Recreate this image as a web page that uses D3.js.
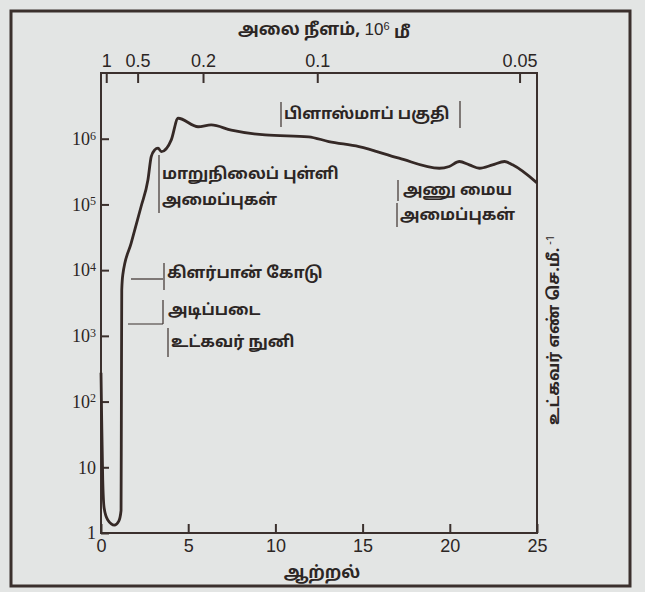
<!DOCTYPE html>
<html>
<head>
<meta charset="utf-8">
<script src="https://cdnjs.cloudflare.com/ajax/libs/d3/7.8.5/d3.min.js"></script>
<style>
  body{margin:0;background:#e3e5e4;}
  .canvas{width:645px;height:592px;}
  svg text{fill:#2c2624;}
  .tam{font-family:"Noto Sans Tamil","Lohit Tamil","Noto Sans","DejaVu Sans",sans-serif;font-weight:bold;}
  .axis path,.axis line{stroke:#3b302d;}
  .axis text{fill:#2c2624;}
</style>
</head>
<body>
<div class="canvas" id="canvas"></div>
<script>
// energy (x) vs absorption coefficient (y)
var energy = [0, 0.04, 0.1, 0.18, 0.39, 0.77, 1.02, 1.15, 1.17, 1.19, 1.25, 1.73, 2.30, 2.69, 2.88, 3.08, 3.27, 3.46, 4.03, 4.42, 5.57, 6.32, 7.47, 9.41, 11.9, 13.06, 14.79, 17.09, 19.40, 19.97, 20.55, 21.12, 21.70, 22.45, 23.14, 23.60, 25];
var absorb = [275, 52, 6.4, 2.4, 1.58, 1.32, 1.52, 2.2, 106, 5000, 8500, 25700, 93000, 235000, 535000, 676000, 720000, 635000, 960000, 2050000, 1520000, 1620000, 1350000, 1140000, 1070000, 905000, 759000, 505000, 355000, 378000, 450000, 400000, 355000, 400000, 450000, 400000, 213000];

var xTicks = [0, 5, 10, 15, 20, 25];
var yTicks = [1, 10, 100, 1000, 10000, 100000, 1000000];
var yTickExp = ['', '', '2', '3', '4', '5', '6'];
// wavelength ticks on top axis, with the energy they sit at in the drawing
var waveLabels = ['1', '0.5', '0.2', '0.1', '0.05'];
var waveEnergy = [0.3, 2.1, 5.85, 12.4, 24.0];

var m = {t:73, r:108, b:59, l:101};
var outerWidth = 645, outerHeight = 592;
var w = outerWidth - m.l - m.r,
    h = outerHeight - m.t - m.b;

var svg = d3.select('.canvas')
    .append('svg')
    .attr('width', outerWidth)
    .attr('height', outerHeight);

// outer border of the figure
svg.append('rect')
    .attr('x', 11).attr('y', 11)
    .attr('width', 619).attr('height', 575)
    .attr('fill', 'none')
    .attr('stroke', '#3b302d')
    .attr('stroke-width', 3);

var plot = svg.append('g')
    .attr('transform', 'translate(' + m.l + ',' + m.t + ')');

var scaleX = d3.scaleLinear().domain([0, 25]).range([0, w]);
var scaleY = d3.scaleLog().domain([1, 1e7]).range([h, 0]);

// frame
plot.append('rect')
    .attr('width', w).attr('height', h)
    .attr('fill', 'none')
    .attr('stroke', '#3b302d')
    .attr('stroke-width', 2);

var axisX = d3.axisBottom(scaleX)
    .tickValues(xTicks)
    .tickSize(-9)
    .tickPadding(6);
var gx = plot.append('g')
    .attr('class', 'axis axis-x')
    .attr('transform', 'translate(0,' + h + ')')
    .call(axisX);
gx.select('.domain').remove();
gx.selectAll('line').attr('stroke-width', 2);
gx.selectAll('text')
    .style('font-family', '"Liberation Sans", Arial, sans-serif')
    .style('font-size', '18px');

var axisY = d3.axisLeft(scaleY)
    .tickValues(yTicks)
    .tickSize(-8)
    .tickPadding(5)
    .tickFormat('');
var gy = plot.append('g')
    .attr('class', 'axis axis-y')
    .call(axisY);
gy.select('.domain').remove();
gy.selectAll('line').attr('stroke-width', 2);
gy.selectAll('.tick text').each(function(d, i){
    var t = d3.select(this)
        .style('font-family', '"Liberation Serif", serif')
        .style('font-size', '18px');
    t.append('tspan').text(i == 0 ? '1' : '10');
    if (yTickExp[i]) {
        t.append('tspan')
            .attr('dy', '-0.45em')
            .style('font-size', '12px')
            .text(yTickExp[i]);
    }
});

var axisTop = d3.axisTop(scaleX)
    .tickValues(waveEnergy)
    .tickSize(-10)
    .tickPadding(6)
    .tickFormat(function(d, i){ return waveLabels[i]; });
var gt = plot.append('g')
    .attr('class', 'axis axis-top')
    .call(axisTop);
gt.select('.domain').remove();
gt.selectAll('line').attr('stroke-width', 2);
gt.selectAll('text')
    .style('font-family', '"Liberation Sans", Arial, sans-serif')
    .style('font-size', '18px');

// absorption curve
var pts = energy.map(function(e, i){ return {e:e, v:absorb[i]}; });
var line = d3.line()
    .x(function(d){ return scaleX(d.e); })
    .y(function(d){ return scaleY(d.v); })
    .curve(d3.curveMonotoneX);

plot.append('path')
    .datum(pts)
    .attr('d', line)
    .attr('fill', 'none')
    .attr('stroke', '#352926')
    .attr('stroke-width', 2.8)
    .attr('stroke-linejoin', 'round');

// titles
var title = svg.append('text')
    .attr('class', 'tam')
    .attr('x', 324).attr('y', 35)
    .attr('text-anchor', 'middle')
    .style('font-size', '17px');
title.append('tspan').text('அலை நீளம், ');
title.append('tspan').style('font-weight', 'normal').style('font-family', '"Liberation Sans", sans-serif').text('10');
title.append('tspan').attr('dy', '-0.45em').style('font-size', '11px').style('font-weight', 'normal').style('font-family', '"Liberation Sans", sans-serif').text('6');
title.append('tspan').attr('dy', '0.45em').text(' மீ');

svg.append('text')
    .attr('class', 'tam')
    .attr('x', 322).attr('y', 578)
    .attr('text-anchor', 'middle')
    .style('font-size', '17px')
    .text('ஆற்றல்');

var yl = svg.append('text')
    .attr('class', 'tam')
    .attr('transform', 'translate(559,330) rotate(-90)')
    .attr('text-anchor', 'middle')
    .style('font-size', '16px');
yl.append('tspan').text('உட்கவர் எண் செ.மீ.');
yl.append('tspan').attr('dy', '-0.5em').style('font-size', '11px').style('font-weight', 'normal').text(' -1');

// annotations
var ann = svg.append('g').attr('class', 'ann');
function bar(x1, y1, x2, y2){
    ann.append('line')
        .attr('x1', x1).attr('y1', y1).attr('x2', x2).attr('y2', y2)
        .attr('stroke', '#3b302d').attr('stroke-width', 1.2);
}
function label(x, y, s){
    ann.append('text')
        .attr('class', 'tam')
        .attr('x', x).attr('y', y)
        .style('font-size', '16px')
        .text(s);
}

bar(281, 102, 281, 127);
bar(460, 101, 460, 128);
label(284, 119, 'பிளாஸ்மாப் பகுதி');

bar(159, 155, 159, 213);
label(162, 179, 'மாறுநிலைப் புள்ளி');
label(162, 205, 'அமைப்புகள்');

bar(398, 180, 398, 201);
label(403, 195, 'அணு மைய');
bar(397, 203, 397, 227);
label(400, 220, 'அமைப்புகள்');

bar(131, 279, 163, 279);
bar(164, 263, 164, 290);
label(167, 278, 'கிளர்பான் கோடு');

bar(128, 324, 163, 324);
bar(163, 300, 163, 324);
label(168, 315, 'அடிப்படை');
bar(168, 328, 168, 357);
label(171, 347, 'உட்கவர் நுனி');
</script>
</body>
</html>
